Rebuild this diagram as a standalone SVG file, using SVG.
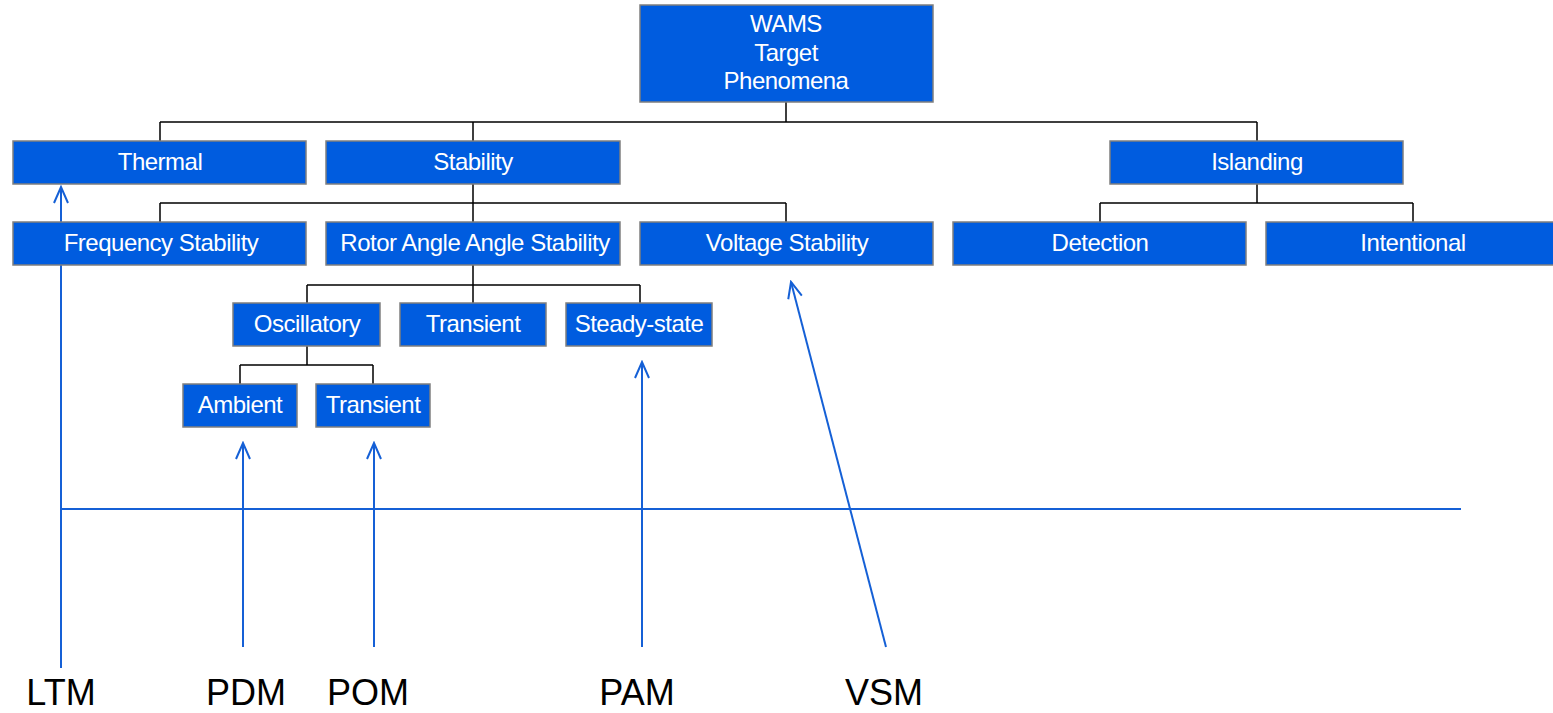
<svg xmlns="http://www.w3.org/2000/svg" width="1553" height="713" viewBox="0 0 1553 713">
<style>
.box{fill:#005CDF;stroke:#7F7F7F;stroke-width:1.5}
.t{fill:#fff;font-family:"Liberation Sans",Arial,sans-serif;font-size:24px;letter-spacing:-0.5px;text-anchor:middle}
.c{fill:none;stroke:#000;stroke-width:1.5}
.a{fill:none;stroke:#1560D6;stroke-width:2}
.lbl{fill:#000;font-family:"Liberation Sans",Arial,sans-serif;font-size:36px;text-anchor:middle}
</style>
<defs>
<marker id="arr" viewBox="-18 -9 20 18" refX="0" refY="0" markerWidth="20" markerHeight="18" markerUnits="userSpaceOnUse" orient="auto">
<polyline points="-16,-7 0,0 -16,7" fill="none" stroke="#1560D6" stroke-width="2"/>
</marker>
</defs>
<rect width="1553" height="713" fill="#fff"/>
<g id="connectors">
<path class="c" d="M786,102V122M160,122H1257M160,122V141M473,122V141M1257,122V141"/>
<path class="c" d="M473,184V203M160,203H786M160,203V222M473,203V222M786,203V222"/>
<path class="c" d="M1257,184V203M1100,203H1413M1100,203V222M1413,203V222"/>
<path class="c" d="M473,265V285M307,285H640M307,285V303M473,285V303M640,285V303"/>
<path class="c" d="M307,346V365M240,365H373M240,365V384M373,365V384"/>
<path class="a" d="M61,509H1461"/>
<path class="a" d="M61,668V187" marker-end="url(#arr)"/>
<path class="a" d="M243,647V443" marker-end="url(#arr)"/>
<path class="a" d="M374,647V443" marker-end="url(#arr)"/>
<path class="a" d="M642,647V362" marker-end="url(#arr)"/>
<path class="a" d="M886,647L791,282" marker-end="url(#arr)"/>
</g>
<g id="n-root"><rect class="box" x="640" y="5" width="293" height="97"/><text class="t" x="786" y="32">WAMS</text><text class="t" x="786" y="61">Target</text><text class="t" x="786" y="89">Phenomena</text></g>
<g id="n-thermal"><rect class="box" x="13" y="141" width="293" height="43"/><text class="t" x="160" y="170">Thermal</text></g>
<g id="n-stability"><rect class="box" x="326" y="141" width="294" height="43"/><text class="t" x="473" y="170">Stability</text></g>
<g id="n-islanding"><rect class="box" x="1110" y="141" width="293" height="43"/><text class="t" x="1257" y="170">Islanding</text></g>
<g id="n-freq"><rect class="box" x="13" y="222" width="293" height="43"/><text class="t" x="161" y="251">Frequency Stability</text></g>
<g id="n-rotor"><rect class="box" x="326" y="222" width="294" height="43"/><text class="t" x="475" y="251">Rotor Angle Angle Stability</text></g>
<g id="n-voltage"><rect class="box" x="640" y="222" width="293" height="43"/><text class="t" x="787" y="251">Voltage Stability</text></g>
<g id="n-detection"><rect class="box" x="953" y="222" width="293" height="43"/><text class="t" x="1100" y="251">Detection</text></g>
<g id="n-intentional"><rect class="box" x="1266" y="222" width="293" height="43"/><text class="t" x="1413" y="251">Intentional</text></g>
<g id="n-oscillatory"><rect class="box" x="233" y="303" width="147" height="43"/><text class="t" x="307" y="332">Oscillatory</text></g>
<g id="n-transient1"><rect class="box" x="400" y="303" width="146" height="43"/><text class="t" x="473" y="332">Transient</text></g>
<g id="n-steady"><rect class="box" x="566" y="303" width="146" height="43"/><text class="t" x="639" y="332">Steady-state</text></g>
<g id="n-ambient"><rect class="box" x="183" y="384" width="114" height="43"/><text class="t" x="240" y="413">Ambient</text></g>
<g id="n-transient2"><rect class="box" x="316" y="384" width="114" height="43"/><text class="t" x="373" y="413">Transient</text></g>
<g id="labels">
<text class="lbl" x="61" y="705">LTM</text>
<text class="lbl" x="246" y="705">PDM</text>
<text class="lbl" x="368" y="705">POM</text>
<text class="lbl" x="637" y="705">PAM</text>
<text class="lbl" x="884" y="705">VSM</text>
</g>
</svg>
